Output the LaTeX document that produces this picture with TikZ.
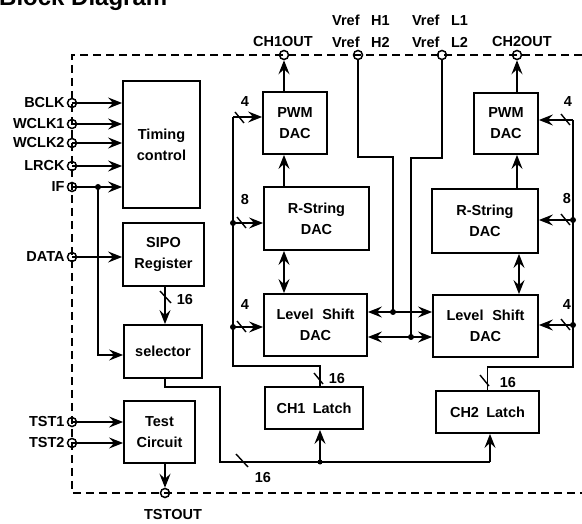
\documentclass[tikz,border=0pt]{standalone}
\usepackage{fontspec}
\setmainfont{Liberation Sans}
\usetikzlibrary{arrows.meta,calc}
\begin{document}
\begin{tikzpicture}[x=1pt,y=-1pt,
  font=\fontsize{14.5}{21}\selectfont\bfseries,
  box/.style={draw, line width=1.8pt, inner sep=0pt, align=center},
  port/.style={draw, circle, line width=1.5pt, minimum size=9pt, inner sep=0pt},
  wire/.style={line width=1.6pt},
  arr/.style={wire, -{Stealth[length=14pt,width=11pt,inset=5pt]}},
  darr/.style={wire, {Stealth[length=14pt,width=11pt,inset=5pt]}-{Stealth[length=14pt,width=11pt,inset=5pt]}},
  dot/.style={circle, fill, inner sep=0pt, minimum size=6pt},
  border/.style={line width=1.8pt, dash pattern=on 8pt off 5pt},
  lbl/.style={inner sep=1pt},
  busmark/.style={line width=1.4pt}
]
\useasboundingbox (0,0) rectangle (582,524);

% title (partly cut by the page edge, as in the reference)
\node[anchor=base west, inner sep=0pt, font=\fontsize{24}{28}\selectfont\bfseries] (title) at (-1,6) {Block Diagram};

% border
\draw[border] (582,55) -- (72,55) -- (72,493) -- (582,493);

% boxes
\node[box, minimum width=77pt, minimum height=127pt] (timing) at (161.5,144.5) {Timing\\control};
\node[box, minimum width=81pt, minimum height=63pt] (sipo) at (163.5,254.5) {SIPO\\Register};
\node[box, minimum width=78pt, minimum height=53pt] (sel) at (163,351.5) {selector};
\node[box, minimum width=71pt, minimum height=62pt] (test) at (159.5,432) {Test\\Circuit};
\node[box, minimum width=64pt, minimum height=62pt] (pwm1) at (295,123) {PWM\\DAC};
\node[box, minimum width=105pt, minimum height=63pt] (rs1) at (316.5,218.5) {R-String\\DAC};
\node[box, minimum width=103pt, minimum height=62pt] (ls1) at (315.5,325) {Level\hspace{0.6em}Shift\\DAC};
\node[box, minimum width=98pt, minimum height=42pt] (ch1l) at (314,408) {CH1\hspace{0.5em}Latch};
\node[box, minimum width=64pt, minimum height=61pt] (pwm2) at (506,123.5) {PWM\\DAC};
\node[box, minimum width=106pt, minimum height=64pt] (rs2) at (485,221) {R-String\\DAC};
\node[box, minimum width=105pt, minimum height=62pt] (ls2) at (485.5,326) {Level\hspace{0.6em}Shift\\DAC};
\node[box, minimum width=103pt, minimum height=42pt] (ch2l) at (487.5,412) {CH2\hspace{0.5em}Latch};

% left ports
\foreach \n/\t/\y in {bclk/BCLK/103, wclka/WCLK1/124, wclkb/WCLK2/143, lrck/LRCK/166, if/IF/187, data/DATA/257, tsta/TST1/422, tstb/TST2/443}{
  \node[port] (\n) at (72,\y) {};
  \node[lbl, anchor=east] (\n-l) at ([xshift=-1pt]\n.west) {\t};
}
% top ports
\node[port] (ch1o) at (284,55) {};
\node[port] (vh) at (358,55) {};
\node[port] (vl) at (442,55) {};
\node[port] (ch2o) at (517,55) {};
\node[port] (tsto) at (165,493) {};
\node[lbl] (ch1o-l) at (283,42) {CH1OUT};
\node[lbl] (vh-a) at (361,20) {Vref\hspace{0.8em}H1};
\node[lbl] (vh-b) at (361,42) {Vref\hspace{0.8em}H2};
\node[lbl] (vl-a) at (440,20) {Vref\hspace{0.8em}L1};
\node[lbl] (vl-b) at (440,42) {Vref\hspace{0.8em}L2};
\node[lbl] (ch2o-l) at (522,42) {CH2OUT};
\node[lbl] (tsto-l) at (173,515) {TSTOUT};

% inputs to timing, SIPO, test
\foreach \n in {bclk, wclka, wclkb, lrck, if}
  \draw[arr] (\n.center) -- (timing.west |- \n);
\draw[arr] (data.center) -- (sipo.west |- data);
\draw[arr] (tsta.center) -- (test.west |- tsta);
\draw[arr] (tstb.center) -- (test.west |- tstb);
\coordinate (ifj) at (98,187);
\node[dot] at (ifj) {};
\coordinate (selin) at ($(sel.west)+(0,3.5)$);
\draw[arr] (ifj) |- (selin);

% SIPO -> selector
\coordinate (sipoout) at ($(sipo.south)+(1.5,0)$);
\draw[arr] (sipoout) -- (sel.north -| sipoout);
\draw[busmark] (160,291) -- (171,303);
\node[lbl] at (185,300) {16};

% test -> TSTOUT
\draw[arr] (test.south -| tsto) -- (tsto.north);

% selector -> latches
\coordinate (bj) at (320,462);
\coordinate (selout) at ($(sel.south)+(2,0)$);
\coordinate (ch2in) at ($(ch2l.south)+(2.5,0)$);
\node[dot, minimum size=5pt] at (bj) {};
\draw[wire] (selout) |- (220,387) |- (bj) -- (ch2in |- bj);
\draw[arr] (bj) -- (ch1l.south -| bj);
\draw[arr] (ch2in |- bj) -- (ch2in);
\draw[busmark] (236,454) -- (248,467);
\node[lbl] at (263,478) {16};

% CH1 chain
\draw[arr] (pwm1.north -| ch1o) -- (ch1o.south);
\draw[arr] (rs1.north -| ch1o) -- (pwm1.south -| ch1o);
\draw[darr] (rs1.south -| ch1o) -- (ls1.north -| ch1o);

% CH2 chain
\coordinate (c2x) at ($(ch2o)+(2,0)$);
\draw[arr] (pwm2.north -| ch2o) -- (ch2o.south);
\draw[arr] (rs2.north -| ch2o) -- (pwm2.south -| ch2o);
\draw[darr] (rs2.south -| c2x) -- (ls2.north -| c2x);

% CH1 control bus
\coordinate (b1t) at (233,117);
\coordinate (b1a) at (233,223);
\coordinate (b1b) at (233,327);
\coordinate (b1c) at (233,366);
\draw[wire] (b1t) -- (b1c) -| (ch1l.north -| bj);
\draw[arr] (b1t) -- (pwm1.west |- b1t);
\draw[arr] (b1a) -- (rs1.west |- b1a);
\draw[arr] (b1b) -- (ls1.west |- b1b);
\node[dot] at (b1a) {};
\node[dot] at (b1b) {};
\draw[busmark] (235,112) -- (244,123);
\draw[busmark] (237,217) -- (246,228);
\draw[busmark] (237,321) -- (246,332);
\draw[busmark] (314,373) -- (323,384);
\node[lbl] at (245,102) {4};
\node[lbl] at (245,200) {8};
\node[lbl] at (245,305) {4};
\node[lbl] at (337,379) {16};

% CH2 control bus
\coordinate (b2t) at (573,120);
\coordinate (b2a) at (573,220);
\coordinate (b2b) at (573,325);
\coordinate (b2c) at (573,367);
\draw[wire] (b2t) -- (b2c) -| (ch2l.north);
\draw[arr] (b2t) -- (pwm2.east |- b2t);
\draw[arr] (b2a) -- (rs2.east |- b2a);
\draw[arr] (b2b) -- (ls2.east |- b2b);
\node[dot] at (b2a) {};
\node[dot] at (b2b) {};
\draw[busmark] (561,114) -- (570,125);
\draw[busmark] (561,214) -- (570,225);
\draw[busmark] (561,319) -- (570,330);
\draw[busmark] (480,375) -- (489,386);
\node[lbl] at (568,102) {4};
\node[lbl] at (567,199) {8};
\node[lbl] at (567,305) {4};
\node[lbl] at (508,383) {16};

% Vref lines
\coordinate (jh) at (393,312);
\coordinate (jl) at (411,337);
\draw[wire] (vh.south) |- (393,157) -- (jh);
\draw[wire] (vl.south) |- (411,158) -- (jl);
\draw[darr] (ls1.east |- jh) -- (ls2.west |- jh);
\draw[darr] (ls1.east |- jl) -- (ls2.west |- jl);
\node[dot] at (jh) {};
\node[dot] at (jl) {};
\end{tikzpicture}
\end{document}
